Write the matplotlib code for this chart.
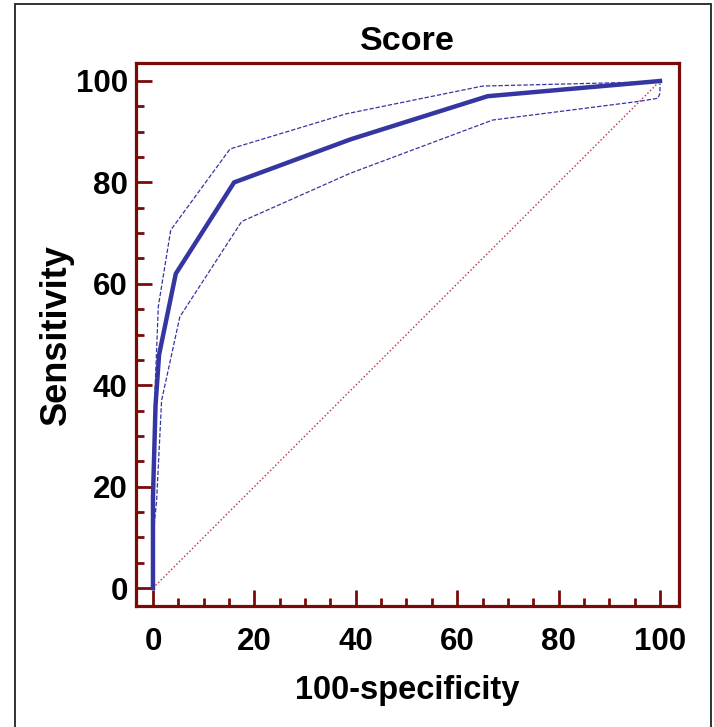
import matplotlib.pyplot as plt
from matplotlib.patches import Rectangle
from matplotlib.ticker import MultipleLocator

# ROC curve values
fpr = [0, 0, 0.5, 1.2, 4.5, 16, 39, 66, 100]
sens = [0, 18, 36, 46, 62, 80, 88.5, 97, 100]

# upper and lower confidence bounds
upper_x = [0, 0.4, 1.05, 3.5, 15.2, 38, 65, 97, 100]
upper_y = [12, 39, 55.5, 70.6, 86.6, 93.5, 99, 99.8, 100]
lower_x = [0, 0.7, 1.7, 5.3, 17.5, 38.9, 67, 96, 99.6, 100, 100]
lower_y = [10, 17, 37, 53.5, 72.3, 81.8, 92.3, 96, 96.6, 97.6, 99.5]

ticks = [0, 20, 40, 60, 80, 100]

red = '#7a0a0a'
blue = '#3636a2'

plt.rcParams['font.family'] = ['Liberation Sans', 'DejaVu Sans']
plt.rcParams['font.weight'] = 'bold'

fig = plt.figure(figsize=(7.14, 7.27), dpi=100)
ax = fig.add_axes([136 / 714, 1 - 606 / 727, 543 / 714, 543 / 727])

# outer frame round the whole figure
fig.patches.append(Rectangle((15 / 714, -0.05), 696 / 714, 1.05 - 4 / 727,
                             transform=fig.transFigure, fill=False,
                             edgecolor='#222222', linewidth=1.3))

ax.plot([0, 100], [0, 100], color='#b03030', linestyle=':', linewidth=1.0)
ax.plot(upper_x, upper_y, color=blue, linestyle='--', dashes=(3.5, 1.5), linewidth=0.9)
ax.plot(lower_x, lower_y, color=blue, linestyle='--', dashes=(3.5, 1.5), linewidth=0.9)
ax.plot(fpr, sens, color=blue, linewidth=3.2, solid_joinstyle='miter')

ax.set_xlim(-3.35, 103.75)
ax.set_ylim(-3.55, 103.55)
ax.xaxis.set_minor_locator(MultipleLocator(5))
ax.yaxis.set_minor_locator(MultipleLocator(5))
ax.set_xticks(ticks)
ax.set_yticks(ticks)

for s in ax.spines.values():
    s.set_color(red)
    s.set_linewidth(2.3)

ax.tick_params(which='major', direction='in', length=11.5, width=2.0, color=red,
               labelsize=22.5)
ax.tick_params(which='minor', direction='in', length=5.8, width=2.0, color=red)
ax.tick_params(axis='x', which='major', pad=15)
ax.tick_params(axis='y', which='major', pad=6)

ax.set_title('Score', fontsize=24.5, fontweight='bold', pad=9)
ax.set_xlabel('100-specificity', fontsize=23.5, fontweight='bold', labelpad=13)
ax.set_ylabel('Sensitivity', fontsize=26, fontweight='bold', labelpad=1)

fig.savefig('out.png', dpi=100)
